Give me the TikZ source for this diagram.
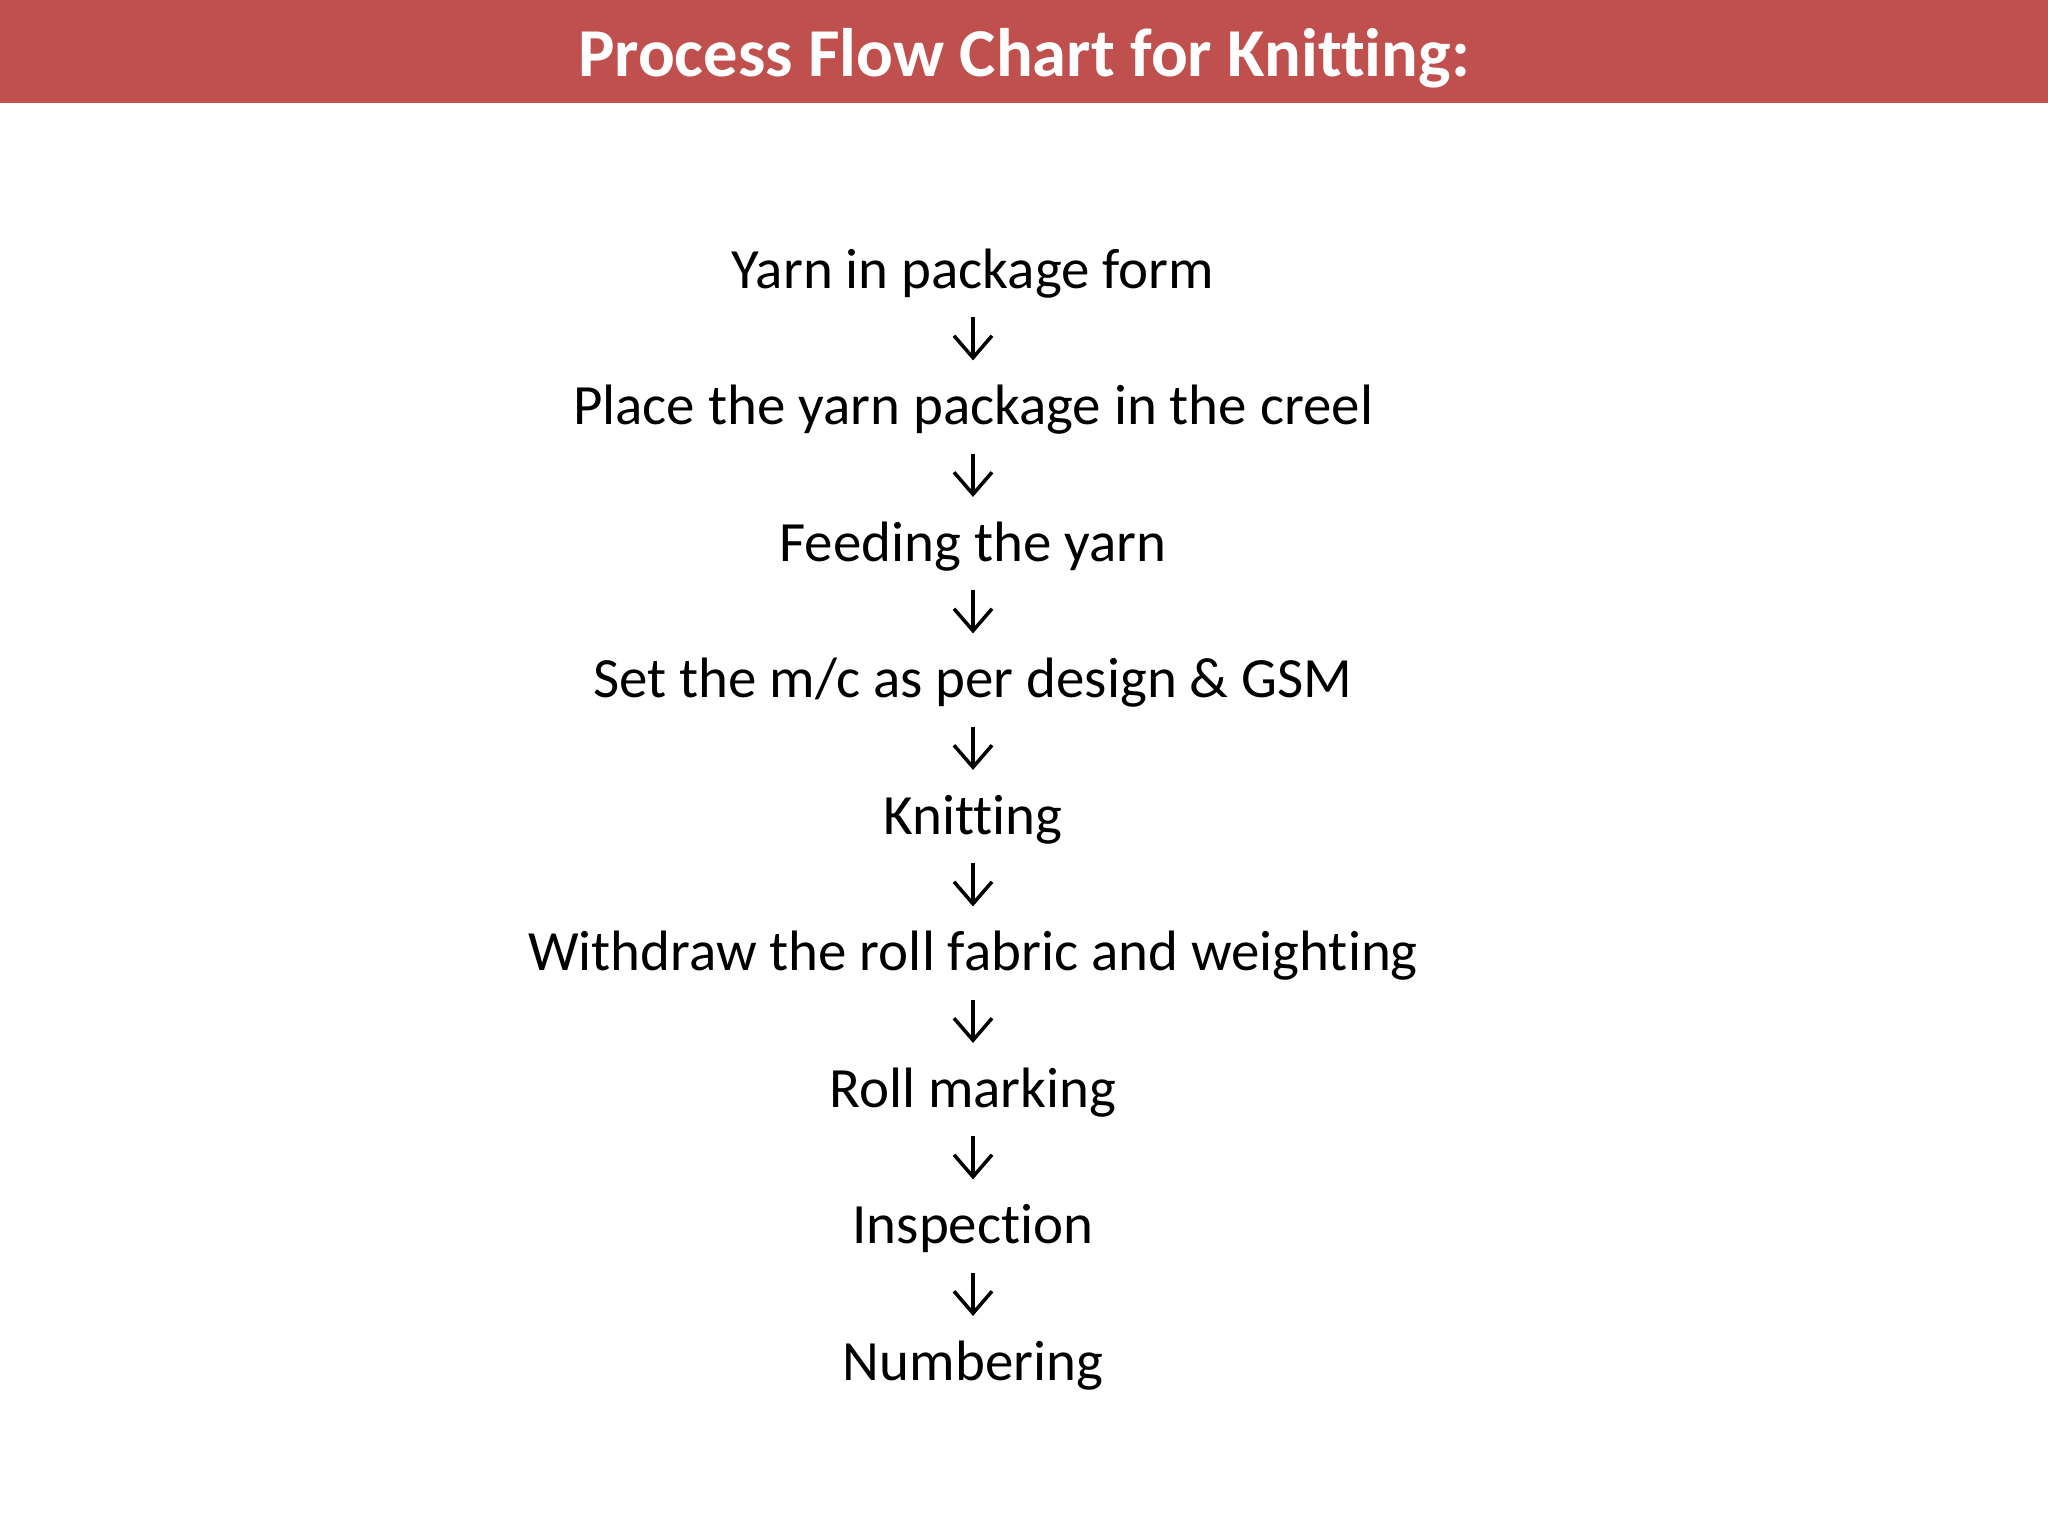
\documentclass[tikz,border=0pt]{standalone}
\usepackage{fontspec}
\setmainfont{Carlito}[Ligatures=NoCommon]
\usetikzlibrary{arrows.meta}
\definecolor{bandred}{RGB}{192,80,77}

\begin{document}
\begin{tikzpicture}[
  stage/.style={font=\fontsize{16.2}{19}\selectfont, text height=11.5pt, text depth=3.5pt, inner sep=0pt},
  flow/.style={-{Straight Barb[length=2.2mm,width=3.8mm]}, line width=1pt, shorten <=0.16cm, shorten >=0.23cm}
]
\useasboundingbox (0,0) rectangle (20.48,-15.36);
\fill[bandred] (0,0) rectangle (20.48,-1.03);
\node[text=white, inner sep=0pt, font=\bfseries\fontsize{19.5}{23}\selectfont] (title) at (10.24,-0.585) {Process Flow Chart for Knitting:};

\node[stage] (yarn) at (9.73,-2.74) {Yarn in package form};
\node[stage] (creel) at (9.73,-4.105) {Place the yarn package in the creel};
\node[stage] (feed) at (9.73,-5.47) {Feeding the yarn};
\node[stage] (setmc) at (9.73,-6.835) {Set the m/c as per design \& GSM};
\node[stage] (knit) at (9.73,-8.20) {Knitting};
\node[stage] (withdraw) at (9.73,-9.565) {Withdraw the roll fabric and weighting};
\node[stage] (mark) at (9.73,-10.93) {Roll marking};
\node[stage] (inspect) at (9.73,-12.295) {Inspection};
\node[stage] (number) at (9.73,-13.66) {Numbering};

\draw[flow] (yarn) -- (creel);
\draw[flow] (creel) -- (feed);
\draw[flow] (feed) -- (setmc);
\draw[flow] (setmc) -- (knit);
\draw[flow] (knit) -- (withdraw);
\draw[flow] (withdraw) -- (mark);
\draw[flow] (mark) -- (inspect);
\draw[flow] (inspect) -- (number);
\end{tikzpicture}
\end{document}
